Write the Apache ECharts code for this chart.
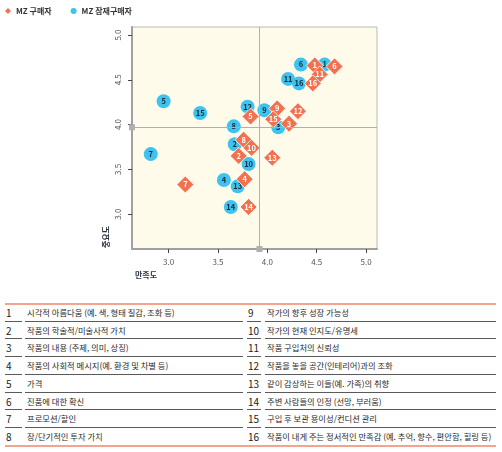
<!DOCTYPE html>
<html>
<head>
<meta charset="utf-8">
<script src="https://cdn.jsdelivr.net/npm/echarts@6/dist/echarts.min.js"></script>
<style>
  html, body { margin: 0; padding: 0; background: #fff; }
  body { width: 502px; height: 452px; position: relative; overflow: hidden;
         font-family: "Noto Sans CJK KR", "Noto Sans", sans-serif; }
  #chart { position: absolute; left: 0; top: 0; width: 502px; height: 300px; }
  #tbl { position: absolute; left: 0; top: 303px; width: 502px; }
  .orange { position: absolute; left: 5px; width: 491px; height: 0; border-top: 2px solid #f2a48c; }
  .row { position: absolute; height: 17.7px; font-size: 8.3px; color: #2a2a2a; line-height: 17.7px; }
  .num { position: absolute; top: 0; height: 100%; font-size: 10px; color: #222; }
  .txt { position: absolute; top: 0; height: 100%; white-space: nowrap; }
  .sep { position: absolute; height: 0; border-top: 1.5px solid #5a5a5a; }
</style>
</head>
<body>
<div id="chart"></div>
<div id="tbl"></div>
<script>
// ---- data ----
const itemNumbers = ['1','2','3','4','5','6','7','8','9','10','11','12','13','14','15','16'];
const itemNames = [
  '시각적 아름다움 (예. 색, 형태 질감, 조화 등)',
  '작품의 학술적/미술사적 가치',
  '작품의 내용 (주제, 의미, 상징)',
  '작품의 사회적 메시지(예. 환경 및 차별 등)',
  '가격',
  '진품에 대한 확신',
  '프로모션/할인',
  '장/단기적인 투자 가치',
  '작가의 향후 성장 가능성',
  '작가의 현재 인지도/유명세',
  '작품 구입처의 신뢰성',
  '작품을 놓을 공간(인테리어)과의 조화',
  '같이 감상하는 이들(예. 가족)의 취향',
  '주변 사람들의 인정 (선망, 부러움)',
  '구입 후 보관 용이성/컨디션 관리',
  '작품이 내게 주는 정서적인 만족감 (예. 추억, 향수, 편안함, 힐링 등)'
];
// MZ 구매자 (buyers)
const buyerSatisfaction = [4.48, 3.71, 4.22, 3.77, 3.83, 4.68, 3.17, 3.76, 4.10, 3.84, 4.53, 4.31, 4.05, 3.81, 4.06, 4.46];
const buyerImportance   = [4.66, 3.65, 4.01, 3.39, 4.09, 4.65, 3.33, 3.83, 4.18, 3.74, 4.56, 4.15, 3.63, 3.08, 4.06, 4.46];
// MZ 잠재구매자 (potential buyers)
const potentialSatisfaction = [4.58, 3.67, 4.11, 3.56, 2.95, 4.34, 2.82, 3.66, 3.97, 3.81, 4.21, 3.80, 3.70, 3.63, 3.32, 4.32];
const potentialImportance   = [4.67, 3.78, 3.97, 3.38, 4.26, 4.67, 3.67, 3.98, 4.16, 3.56, 4.51, 4.20, 3.31, 3.08, 4.13, 4.46];
// reference (mean) lines
const refSatisfaction = 3.92;
const refImportance = 3.97;
const tickValues = [3.0, 3.5, 4.0, 4.5, 5.0];
const seriesNames = ['MZ 구매자', 'MZ 잠재구매자'];

const font = '"Noto Sans CJK KR", "Noto Sans", sans-serif';
const chart = echarts.init(document.getElementById('chart'), null, { renderer: 'canvas' });

function pts(xs, ys) { return xs.map((x, i) => [x, ys[i], itemNumbers[i]]); }

chart.setOption({
  animation: false,
  textStyle: { fontFamily: font },
  legend: {
    data: [
      { name: seriesNames[0], icon: 'diamond', itemStyle: { borderWidth: 0 } },
      { name: seriesNames[1], icon: 'circle' }
    ],
    left: 0, top: 2,
    itemWidth: 6, itemHeight: 6, itemGap: 19,
    textStyle: { fontSize: 8, fontWeight: 'bold', color: '#333', fontFamily: font }
  },
  grid: {
    left: 132, top: 27, width: 245, height: 222,
    show: true, backgroundColor: '#fffbea', borderColor: '#b8b8b8', borderWidth: 1
  },
  xAxis: {
    type: 'value', min: 2.63, max: 5.11,
    axisLine: { show: true, onZero: false, lineStyle: { color: '#a0a0a0', width: 2 } },
    axisTick: { show: true, customValues: tickValues, length: 4, lineStyle: { color: '#444' } },
    axisLabel: { customValues: tickValues, margin: 9, fontSize: 8, color: '#555',
                 formatter: v => v.toFixed(1) },
    splitLine: { show: false }
  },
  yAxis: {
    type: 'value', min: 2.61, max: 5.09,
    axisLine: { show: true, onZero: false, lineStyle: { color: '#a0a0a0', width: 2 } },
    axisTick: { show: true, customValues: tickValues, length: 4, lineStyle: { color: '#444' } },
    axisLabel: { customValues: tickValues, margin: 10, fontSize: 8, color: '#555', rotate: 90,
                 formatter: v => v.toFixed(1) },
    splitLine: { show: false }
  },
  graphic: [
    { type: 'text', x: 105.5, y: 237, rotation: Math.PI / 2,
      style: { text: '중요도', fill: '#2a3340', font: 'bold 8px ' + font,
               align: 'center', verticalAlign: 'middle' } },
    { type: 'text', x: 135, y: 275,
      style: { text: '만족도', fill: '#2a3340', font: 'bold 8px ' + font,
               align: 'left', verticalAlign: 'middle' } }
  ],
  series: [
    {
      name: seriesNames[1], type: 'scatter', symbol: 'circle', symbolSize: 14,
      data: pts(potentialSatisfaction, potentialImportance),
      itemStyle: { color: '#3ec3ee', opacity: 1 },
      label: { show: true, position: 'inside', formatter: p => p.value[2],
               fontSize: 7.5, fontWeight: 'bold', color: '#1b2a3a', fontFamily: font },
      markLine: {
        silent: true, animation: false,
        symbol: ['rect', 'none'], symbolSize: 6,
        label: { show: false },
        lineStyle: { color: '#b0b0b0', width: 1, type: 'solid' },
        itemStyle: { color: '#a8a8a8' },
        data: [{ xAxis: refSatisfaction }, { yAxis: refImportance }]
      },
      z: 2
    },
    {
      name: seriesNames[0], type: 'scatter', symbol: 'diamond', symbolSize: 17,
      data: pts(buyerSatisfaction, buyerImportance),
      itemStyle: { color: '#f2714f', borderColor: '#ffffff', borderWidth: 0.8, opacity: 1 },
      label: { show: true, position: 'inside', formatter: p => p.value[2],
               fontSize: 7.5, fontWeight: 'bold', color: '#ffffff', fontFamily: font },
      z: 3
    }
  ]
});

// ---- table ----
const tbl = document.getElementById('tbl');
const rowH = 17.7;
function addLine(cls, left, top, width) {
  const d = document.createElement('div');
  d.className = cls; d.style.left = left + 'px'; d.style.top = top + 'px';
  if (width) d.style.width = width + 'px';
  tbl.appendChild(d);
}
addLine('orange', 5, 0);
addLine('orange', 5, rowH * 8);
const cols = [
  { numL: 5, numW: 17, txtL: 25, txtW: 218 },
  { numL: 247, numW: 14, txtL: 265, txtW: 231 }
];
for (let c = 0; c < 2; c++) {
  const col = cols[c];
  for (let r = 0; r < 8; r++) {
    const idx = c * 8 + r;
    const top = 1 + r * rowH;
    const row = document.createElement('div');
    row.className = 'row';
    row.style.top = top + 'px'; row.style.left = '0px'; row.style.width = '502px';
    const n = document.createElement('div');
    n.className = 'num'; n.style.left = (col.numL + 1) + 'px'; n.textContent = itemNumbers[idx];
    const t = document.createElement('div');
    t.className = 'txt'; t.style.left = (col.txtL + 2) + 'px'; t.textContent = itemNames[idx];
    row.appendChild(n); row.appendChild(t);
    tbl.appendChild(row);
    if (r < 7) {
      addLine('sep', col.numL, (r + 1) * rowH, col.numW);
      addLine('sep', col.txtL, (r + 1) * rowH, col.txtW);
    }
  }
}
</script>
</body>
</html>
